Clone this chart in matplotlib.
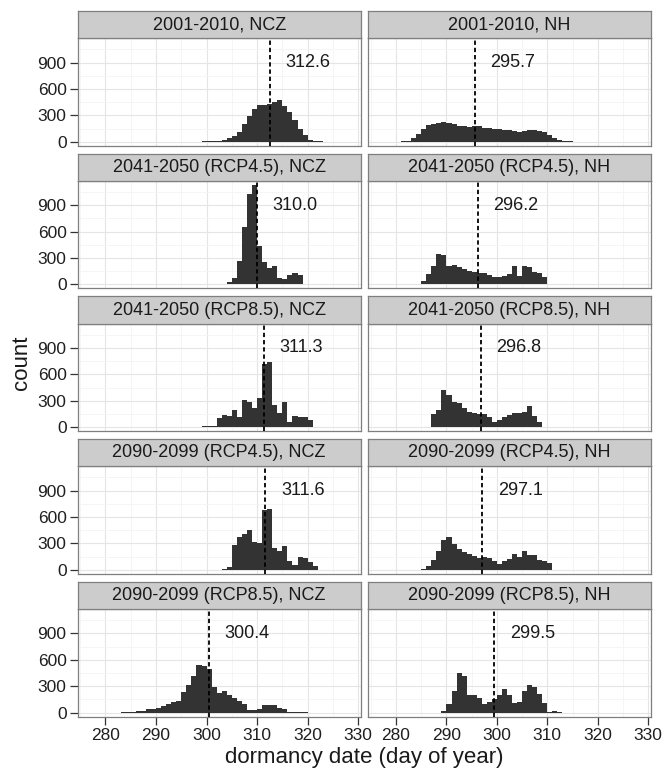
import matplotlib
matplotlib.use('Agg')
import matplotlib.pyplot as plt
import numpy as np

plt.rcParams['font.family'] = ['Liberation Sans', 'DejaVu Sans']

periods = ['2001-2010', '2041-2050 (RCP4.5)', '2041-2050 (RCP8.5)',
           '2090-2099 (RCP4.5)', '2090-2099 (RCP8.5)']
regions = ['NCZ', 'NH']

# mean dormancy date per panel (dashed line + label)
mean_ncz = [312.6, 310.0, 311.3, 311.6, 300.4]
mean_nh = [295.7, 296.2, 296.8, 297.1, 299.5]

# first day of the first 1-day bin in each count list
first_day_ncz = [298, 303, 299, 303, 283]
first_day_nh = [280, 284, 286, 285, 289]

# counts per 1-day bin
counts_ncz_2001 = [2, 3, 4, 6, 10, 20, 40, 60, 110, 200, 290, 370, 415, 420,
                   425, 455, 470, 410, 340, 250, 150, 80, 25, 8, 3]
counts_ncz_2041_45 = [8, 25, 70, 265, 650, 1030, 1130, 440, 260, 190, 205, 75,
                      65, 110, 135, 105, 10]
counts_ncz_2041_85 = [8, 10, 10, 100, 140, 130, 190, 120, 305, 290, 215, 330,
                      720, 745, 255, 165, 280, 60, 130, 110, 120, 80, 5]
counts_ncz_2090_45 = [10, 35, 280, 370, 405, 450, 320, 310, 680, 690, 248, 210,
                      267, 95, 60, 150, 140, 90, 40]
counts_ncz_2090_85 = [3, 5, 5, 18, 20, 35, 45, 55, 70, 95, 115, 130, 230, 315,
                      410, 545, 525, 500, 285, 220, 250, 200, 160, 130, 100, 30,
                      30, 40, 85, 80, 80, 55, 35, 5, 5, 4, 4]

counts_nh_2001 = [2, 4, 10, 40, 90, 140, 185, 205, 215, 220, 215, 200, 175, 180,
                  170, 180, 175, 160, 155, 150, 140, 135, 130, 120, 115, 120,
                  130, 128, 125, 110, 80, 45, 20, 8, 3, 2]
counts_nh_2041_45 = [5, 35, 115, 210, 350, 335, 215, 220, 195, 170, 155, 138,
                     130, 125, 105, 90, 88, 98, 115, 205, 100, 210, 195, 145,
                     135, 82]
counts_nh_2041_85 = [5, 150, 200, 420, 360, 280, 270, 220, 175, 160, 150, 145,
                     120, 60, 85, 110, 135, 155, 165, 175, 240, 130, 60]
counts_nh_2090_45 = [10, 40, 110, 210, 340, 370, 290, 240, 200, 175, 155, 130,
                     145, 140, 100, 70, 100, 125, 180, 150, 210, 165, 170, 115,
                     100, 80]
counts_nh_2090_85 = [15, 100, 240, 445, 410, 195, 195, 160, 100, 125, 155, 200,
                     265, 200, 110, 125, 250, 310, 290, 205, 110, 2, 15, 3]

counts_ncz = [counts_ncz_2001, counts_ncz_2041_45, counts_ncz_2041_85,
              counts_ncz_2090_45, counts_ncz_2090_85]
counts_nh = [counts_nh_2001, counts_nh_2041_45, counts_nh_2041_85,
             counts_nh_2090_45, counts_nh_2090_85]

x_major = [280, 290, 300, 310, 320, 330]
x_minor = [275, 285, 295, 305, 315, 325]
y_major = [0, 300, 600, 900]
y_minor = [150, 450, 750, 1050]

W, H = 665, 772
fig = plt.figure(figsize=(W / 100, H / 100), dpi=100)

col_left = [77.7, 368.3]
col_width = [283.0, 282.4]
row_pitch = 142.7

for k in range(5):
    for j in range(2):
        start = [first_day_ncz, first_day_nh][j][k]
        counts = np.array([counts_ncz, counts_nh][j][k])
        mean = [mean_ncz, mean_nh][j][k]
        title = f'{periods[k]}, {regions[j]}'

        p_top = 38.3 + k * row_pitch
        p_bot = 145.7 + k * row_pitch
        s_top = 11.0 + k * row_pitch

        ax = fig.add_axes([col_left[j] / W, 1 - p_bot / H,
                           col_width[j] / W, (p_bot - p_top) / H])
        sax = fig.add_axes([col_left[j] / W, 1 - p_top / H,
                            col_width[j] / W, (p_top - s_top) / H])

        edges = np.arange(start, start + len(counts) + 1)
        ax.stairs(counts, edges, fill=True, color='#333333', baseline=0, zorder=2)
        ax.axvline(mean, color='black', lw=1.3, ls=(0, (2.4, 1.6)), zorder=3)
        ax.text(mean + 7.5, 900, f'{mean:.1f}', ha='center', va='center',
                fontsize=13, color='#1a1a1a', zorder=4)

        ax.set_xlim(274.5, 330.5)
        ax.set_ylim(-45, 1175)
        ax.set_xticks(x_major)
        ax.set_xticks(x_minor, minor=True)
        ax.set_yticks(y_major)
        ax.set_yticks(y_minor, minor=True)
        ax.grid(which='major', color='#E5E5E5', lw=0.8, zorder=0)
        ax.grid(which='minor', color='#F4F4F4', lw=0.6, zorder=0)
        ax.set_axisbelow(True)
        for s in ax.spines.values():
            s.set_color('#7F7F7F')
            s.set_linewidth(0.9)
        ax.tick_params(which='minor', length=0)
        ax.tick_params(which='major', length=5.5, width=0.9, color='#333333',
                       labelsize=12.5, labelcolor='#1f1f1f', pad=2.5)
        if j != 0:
            ax.tick_params(left=False, labelleft=False)
        if k != 4:
            ax.tick_params(bottom=False, labelbottom=False)

        sax.set_facecolor('#CCCCCC')
        sax.set_xticks([])
        sax.set_yticks([])
        for s in sax.spines.values():
            s.set_color('#7F7F7F')
            s.set_linewidth(0.9)
        sax.text(0.5, 0.5, title, ha='center', va='center', fontsize=13,
                 color='#1a1a1a', transform=sax.transAxes)

fig.text(0.547, 1 - 758 / H, 'dormancy date (day of year)', ha='center',
         va='center', fontsize=16, color='#1a1a1a')
fig.text(0.033, 1 - 363 / H, 'count', ha='center', va='center', rotation=90,
         fontsize=16, color='#1a1a1a')

fig.savefig('out.png', dpi=100, facecolor='white')
